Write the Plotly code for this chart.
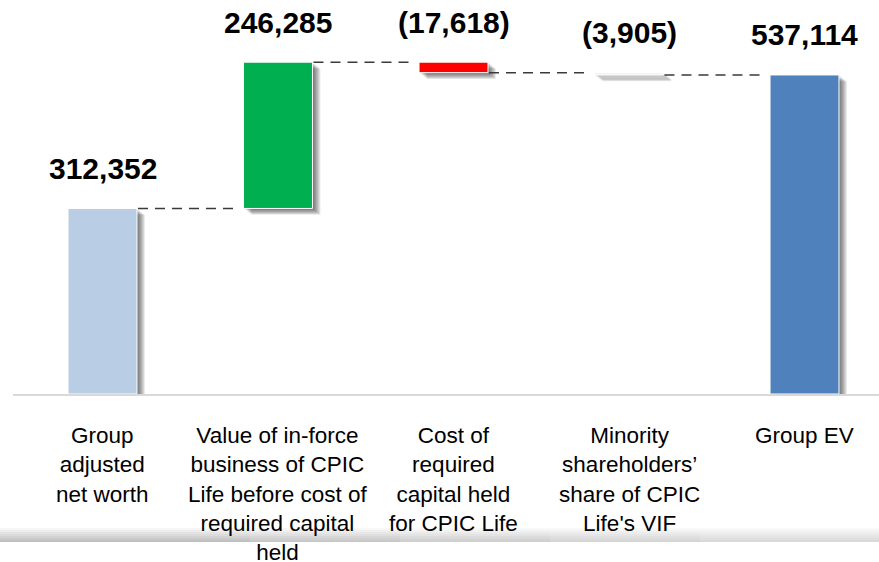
import plotly.graph_objects as go

# ---------------- data ----------------
categories = [
    "Group<br>adjusted<br>net worth",
    "Value of in-force<br>business of CPIC<br>Life before cost of<br>required capital<br>held",
    "Cost of<br>required<br>capital held<br>for CPIC Life",
    "Minority<br>shareholders’<br>share of CPIC<br>Life's VIF",
    "Group EV",
]
values = [312352, 246285, -17618, -3905, 537114]
measures = ["absolute", "relative", "relative", "relative", "total"]
value_labels = ["312,352", "246,285", "(17,618)", "(3,905)", "537,114"]
bar_colors = ["#b9cde5", "#00b050", "#ff0000", "#f2f2f2", "#4f81bd"]

# ---------------- layout geometry ----------------
W, H = 879, 562
ML, MR, MT, MB = 13, 0, 0, 168
PLOT_W = W - ML - MR
PLOT_H = H - MT - MB
X_RANGE = [-0.51, 4.4245]
Y_RANGE = [0, 663300]
XPX = (X_RANGE[1] - X_RANGE[0]) / PLOT_W   # x units per pixel
YPX = (Y_RANGE[1] - Y_RANGE[0]) / PLOT_H   # y units per pixel
BAR_W = 0.393
FONT = "Arial, Liberation Sans, sans-serif"

# compute bases / lengths for waterfall
xs = list(range(len(values)))
bases, lengths, tops, ends = [], [], [], []
running = 0
for v, m in zip(values, measures):
    if m in ("absolute", "total"):
        if m == "absolute":
            running = v
        b, l = 0, running
        end = running
    else:
        new = running + v
        b, l = min(running, new), abs(v)
        end = new
        running = new
    bases.append(b)
    lengths.append(l)
    tops.append(b + l)
    ends.append(end)

fig = go.Figure()

# drop shadows (layered translucent copies offset right/down)
N_SH = 8
for j in range(1, N_SH + 1):
    fig.add_trace(go.Bar(
        x=[x + j * XPX for x in xs],
        y=lengths,
        base=[b - j * YPX * 0.8 for b in bases],
        width=BAR_W,
        marker=dict(color="rgba(0,0,0,0.085)", line=dict(width=0)),
        hoverinfo="skip",
        showlegend=False,
    ))

# main bars
fig.add_trace(go.Bar(
    x=xs,
    y=lengths,
    base=bases,
    width=BAR_W,
    marker=dict(color=bar_colors, line=dict(color="white", width=1)),
    showlegend=False,
))

# connectors
cx, cy = [], []
for i in range(len(xs) - 1):
    cx += [xs[i] + BAR_W / 2 + 1 * XPX, xs[i + 1] - BAR_W / 2 - 5 * XPX, None]
    cy += [ends[i], ends[i], None]
fig.add_trace(go.Scatter(
    x=cx, y=cy, mode="lines",
    line=dict(color="#3a3a3a", width=1.5, dash="10px,7px"),
    hoverinfo="skip", showlegend=False,
))

annotations = []
for x, t, lab in zip(xs, tops, value_labels):
    annotations.append(dict(
        x=x, y=t, xref="x", yref="y", text=f"<b>{lab}</b>", showarrow=False,
        yanchor="middle", xanchor="center", yshift=40,
        font=dict(family=FONT, size=30, color="#000000"),
    ))
for x, c in zip(xs, categories):
    annotations.append(dict(
        x=x, y=0, xref="x", yref="y", text=c, showarrow=False,
        yanchor="top", xanchor="center", yshift=-27, align="center",
        font=dict(family=FONT, size=22.5, color="#000000"),
    ))

# bottom grey gradient band (decoration), positions in screen pixels
base_px = H - MB  # screen y of baseline
def py(ypx):
    return (base_px - ypx) / PLOT_H
def px(xpx):
    return (xpx - ML) / PLOT_W

shapes = []
band_top_px, band_bot_px = 528, 542
rows = 7
for r in range(rows):
    y0px = band_top_px + r * (band_bot_px - band_top_px) / rows
    y1px = band_top_px + (r + 1) * (band_bot_px - band_top_px) / rows
    g = int(246 - (246 - 192) * (r / (rows - 1)))
    shapes.append(dict(
        type="rect", xref="paper", yref="paper", layer="below",
        x0=px(0), x1=px(879),
        y0=py(y1px), y1=py(y0px),
        fillcolor=f"rgb({g},{g},{g})", line=dict(width=0),
    ))
for xs_px in [250, 400, 550, 700]:
    shapes.append(dict(
        type="rect", xref="paper", yref="paper", layer="below",
        x0=px(xs_px), x1=px(879),
        y0=py(band_bot_px), y1=py(band_top_px),
        fillcolor="rgba(255,255,255,0.13)", line=dict(width=0),
    ))

fig.update_layout(
    width=W, height=H,
    margin=dict(l=ML, r=MR, t=MT, b=MB, pad=0),
    paper_bgcolor="white", plot_bgcolor="white",
    barmode="overlay",
    showlegend=False,
    annotations=annotations,
    shapes=shapes,
    xaxis=dict(range=X_RANGE, showticklabels=False, showgrid=False, zeroline=False,
               showline=True, linecolor="#d9d9d9", linewidth=2, ticks="", fixedrange=True),
    yaxis=dict(range=Y_RANGE, visible=False, showgrid=False, zeroline=False, fixedrange=True),
)

fig.write_html(
    "out.html",
    config={"displayModeBar": False},
    post_script="document.body.style.margin='0';document.body.style.overflow='hidden';",
)
